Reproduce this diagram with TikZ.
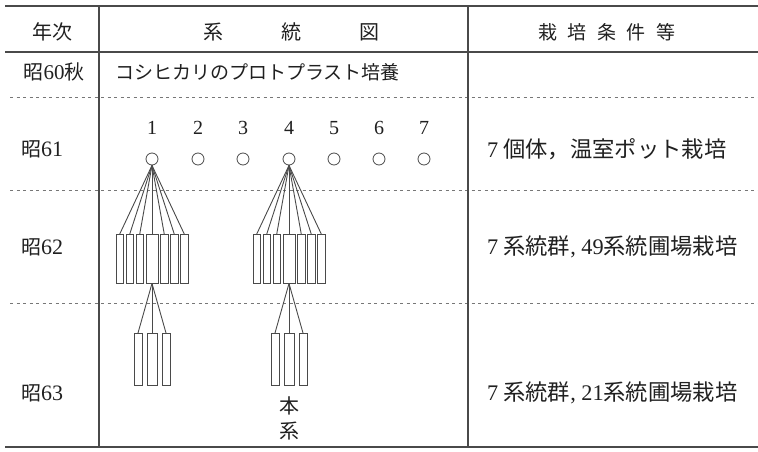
\documentclass[tikz,border=0pt]{standalone}
\usepackage{fontspec}
\setmainfont{Liberation Serif}
\newfontfamily\jp{Noto Sans CJK JP}
\definecolor{linec}{HTML}{4A4A4A}
\definecolor{textc}{HTML}{202020}
\begin{document}
\begin{tikzpicture}[x=1pt,y=-1pt,
  rule/.style={draw=linec, line width=1.8pt},
  thickrule/.style={draw=linec, line width=2.6pt},
  vrule/.style={draw=linec, line width=1.6pt},
  dashline/.style={draw=linec!75, line width=0.8pt, dash pattern=on 3pt off 3.5pt},
  box/.style={rectangle, draw=linec, line width=0.9pt, minimum height=49pt, inner sep=0pt, fill=white},
  lbox/.style={box, minimum height=52pt},
  circ/.style={circle, draw=linec, line width=0.8pt, minimum size=12pt, inner sep=0pt},
  fan/.style={draw=linec, line width=0.9pt},
  lbl/.style={text=textc, font=\jp\fontsize{20}{20}\selectfont, inner sep=0pt},
  rlbl/.style={text=textc, font=\jp\fontsize{22.3}{23}\selectfont, inner sep=0pt, anchor=west},
  num/.style={text=textc, font=\rmfamily\fontsize{20}{20}\selectfont, inner sep=0pt}]
\useasboundingbox (0,0) rectangle (758,452);
% table frame
\coordinate (tl) at (5,6);   \coordinate (tr) at (758,6);
\coordinate (hl) at (5,52);  \coordinate (hr) at (758,52);
\coordinate (bl) at (5,447); \coordinate (br) at (758,447);
\coordinate (d1l) at (10,97);  \coordinate (d1r) at (758,97);
\coordinate (d2l) at (10,190); \coordinate (d2r) at (758,190);
\coordinate (d3l) at (10,303); \coordinate (d3r) at (758,303);
\coordinate (v1t) at (99,6);  \coordinate (v1b) at (99,447);
\coordinate (v2t) at (468,6); \coordinate (v2b) at (468,447);
\draw[thickrule] (tl) -- (tr);
\draw[rule] (hl) -- (hr);
\draw[rule] (bl) -- (br);
\draw[dashline] (d1l) -- (d1r);
\draw[dashline] (d2l) -- (d2r);
\draw[dashline] (d3l) -- (d3r);
\draw[vrule] (v1t) -- (v1b);
\draw[vrule] (v2t) -- (v2b);
% header
\node[lbl] (h1) at (52,32) {年次};
\node[lbl] (h2) at (291,32) {系\hspace{58pt}統\hspace{58pt}図};
\node[lbl, font=\jp\fontsize{19}{19}\selectfont] (h3) at (607,32) {栽\hspace{10.5pt}培\hspace{10.5pt}条\hspace{10.5pt}件\hspace{10.5pt}等};
% year labels
\node[lbl] (y60) at (54,72) {昭{\rmfamily\fontsize{21}{21}\selectfont 60}秋};
\node[lbl] (y61) at (42,149) {昭{\rmfamily\fontsize{22}{22}\selectfont 61}};
\node[lbl] (y62) at (42,247) {昭{\rmfamily\fontsize{22}{22}\selectfont 62}};
\node[lbl] (y63) at (42,393) {昭{\rmfamily\fontsize{22}{22}\selectfont 63}};
% row 60
\node[lbl, anchor=west, font=\jp\fontsize{19}{19}\selectfont] (r60) at (115,72) {コシヒカリのプロトプラスト培養};
% right column
\node[rlbl] (c61) at (487,149) {{\rmfamily 7} 個体，温室ポット栽培};
\node[rlbl] (c62) at (487,247) {{\rmfamily 7} 系統群{\rmfamily , 49}系統圃場栽培};
\node[rlbl] (c63) at (487,393) {{\rmfamily 7} 系統群{\rmfamily , 21}系統圃場栽培};
% numbers and circles
\foreach \i/\x in {1/152,2/198,3/243,4/289,5/334,6/379,7/424} {
  \node[num] (n\i) at (\x,128) {\i};
  \node[circ] (c\i) at (\x,159) {};
}
% upper boxes, group 1
\foreach \i/\x/\w in {1/119.75/7.5,2/129.75/7.5,3/139.75/7.5,4/152/12,5/164.25/7.5,6/174.25/7.5,7/184.25/7.5} {
  \draw[fan] (c1.south) -- (\x,234);
  \node[box, minimum width=\w pt] (a\i) at (\x,258.5) {};
}
% upper boxes, group 2
\foreach \i/\x/\w in {1/256.75/7.5,2/266.75/7.5,3/276.75/7.5,4/289/12,5/301.25/7.5,6/311.25/7.5,7/321.25/7.5} {
  \draw[fan] (c4.south) -- (\x,234);
  \node[box, minimum width=\w pt] (b\i) at (\x,258.5) {};
}
% lower boxes, group 1
\foreach \i/\x/\w in {1/138/8,2/152/10,3/166/8} {
  \draw[fan] (a4.south) -- (\x,333);
  \node[lbox, minimum width=\w pt] (p\i) at (\x,359) {};
}
% lower boxes, group 2
\foreach \i/\x/\w in {1/275/8,2/289/10,3/303/8} {
  \draw[fan] (b4.south) -- (\x,333);
  \node[lbox, minimum width=\w pt] (q\i) at (\x,359) {};
}
\node[lbl] (hon) at (289,406) {本};
\node[lbl] (kei) at (289,431) {系};
\end{tikzpicture}
\end{document}
